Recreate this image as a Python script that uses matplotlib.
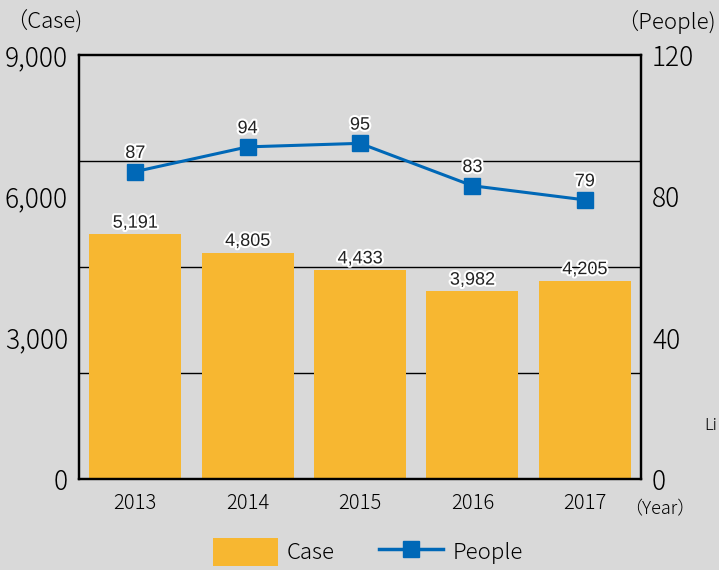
import numpy as np
import matplotlib.pyplot as plt
import matplotlib.patheffects as pe
from matplotlib.patches import Patch
from matplotlib.lines import Line2D

years = ["2013", "2014", "2015", "2016", "2017"]
cases = [5191, 4805, 4433, 3982, 4205]
people = [87, 94, 95, 83, 79]
case_ticks = [0, 3000, 6000, 9000]
people_ticks = [0, 40, 80, 120]
grid_levels = [2250, 4500, 6750]

bar_color = "#F7B731"
line_color = "#0068B7"
bg = "#d9d9d9"
jp = ["Noto Sans CJK JP", "DejaVu Sans"]
plt.rcParams['font.family'] = jp
plt.rcParams['font.weight'] = 'light'

fig = plt.figure(figsize=(7.19, 5.70), dpi=100, facecolor=bg)
ax = fig.add_axes([0.1099, 0.1596, 0.7816, 0.7439])
ax.set_facecolor(bg)
x = np.arange(len(years))

ax.set_xlim(-0.5, 4.5)
ax.set_ylim(0, 9000)
for g in grid_levels:
    ax.axhline(g, color="black", lw=1.0, zorder=1)
bars = ax.bar(x, cases, width=0.82, color=bar_color, zorder=2)
for xi, v in zip(x, cases):
    ax.annotate(f"{v:,}", (xi, v), xytext=(0, 2), textcoords="offset points",
                ha="center", va="bottom", fontsize=13, family="Liberation Sans",
                weight="normal", color="#222222", zorder=5,
                path_effects=[pe.withStroke(linewidth=3, foreground="white")])

ax.set_xticks(x, years, fontsize=14.5)
ax.set_yticks(case_ticks, [f"{t:,}" for t in case_ticks], fontsize=19)
ax.tick_params(length=0, pad=8)
ax.tick_params(axis="x", pad=10)
for s in ax.spines.values():
    s.set_linewidth(1.6)
    s.set_color("black")

ax2 = ax.twinx()
ax2.set_ylim(0, 120)
ax2.plot(x, people, color=line_color, lw=2.2, marker="s", markersize=11.5, zorder=4)
for xi, v in zip(x, people):
    ax2.annotate(str(v), (xi, v), xytext=(0, 7), textcoords="offset points",
                 ha="center", va="bottom", fontsize=13, family="Liberation Sans",
                 weight="normal", color="#222222",
                 path_effects=[pe.withStroke(linewidth=3, foreground="white")])
ax2.set_yticks(people_ticks, [str(t) for t in people_ticks], fontsize=19)
ax2.tick_params(length=0, pad=8)
for s in ax2.spines.values():
    s.set_linewidth(1.6)

fig.text(5 / 719, 1 - 22 / 570, "（Case)", fontsize=16, ha="left", va="center")
fig.text(716 / 719, 1 - 22 / 570, "（People)", fontsize=16, ha="right", va="center")
fig.text(624 / 719, 1 - 509 / 570, "（Year）", fontsize=13, ha="left", va="center")
fig.text(704 / 719, 1 - 425 / 570, "Li", fontsize=12, ha="left", va="center")

handles = [Patch(facecolor=bar_color, label="Case"),
           Line2D([], [], color=line_color, lw=2.5, marker="s", markersize=11.5, label="People")]
fig.legend(handles=handles, loc="center", bbox_to_anchor=(368 / 719, 18 / 570), ncol=2,
           frameon=False, fontsize=16, handlelength=2.9, handleheight=1.6,
           columnspacing=2.0, handletextpad=0.4)

fig.savefig("out.png", dpi=100, facecolor=bg)
